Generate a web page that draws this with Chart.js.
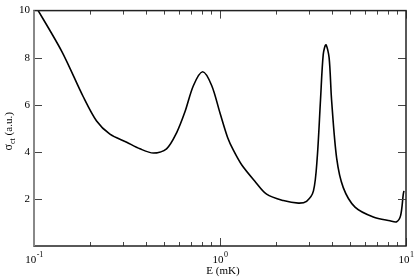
<!DOCTYPE html>
<html>
<head>
<meta charset="utf-8">
<script src="https://cdn.jsdelivr.net/npm/chart.js@4.4.1/dist/chart.umd.min.js"></script>
<style>
  html, body { margin: 0; padding: 0; background: #fff; }
</style>
</head>
<body>
<canvas id="crossSection" width="415" height="277"></canvas>
<script>
// energy (mK) and cross section (a.u.)
const energy = [
  0.100, 0.141, 0.184, 0.217, 0.256, 0.315, 0.371, 0.438,
  0.516, 0.585, 0.648, 0.720, 0.807, 0.902, 1.00, 1.10, 1.18, 1.31,
  1.54, 1.78, 2.19, 2.64, 2.92, 3.18, 3.33, 3.47, 3.59, 3.71,
  3.86, 3.98, 4.24, 4.60, 5.32, 6.67, 8.20, 8.91, 9.36, 9.67, 9.75
];
const sigma = [
  10.30, 8.27, 6.34, 5.31, 4.75, 4.41, 4.13, 3.95,
  4.13, 4.82, 5.70, 6.82, 7.40, 6.82, 5.65, 4.60, 4.07, 3.44,
  2.75, 2.20, 1.93, 1.82, 1.90, 2.34, 3.72, 6.20, 8.14, 8.55,
  8.00, 6.20, 3.72, 2.48, 1.65, 1.23, 1.07, 1.03, 1.30, 2.20, 2.34
];

const xMajorTicks = [0.1, 1, 10];
const xMajorExp = ['-1', '0', '1'];
const xMinorTicks = [0.2, 0.3, 0.4, 0.5, 0.6, 0.7, 0.8, 0.9, 2, 3, 4, 5, 6, 7, 8, 9];
const yMajorTicks = [2, 4, 6, 8];

const serif = '"Liberation Serif", "DejaVu Serif", serif';

const framePlugin = {
  id: 'frame',
  afterDatasetsDraw(chart) {
    const { ctx, chartArea: a, scales: { x, y } } = chart;
    ctx.save();

    // inward ticks on all four sides
    ctx.strokeStyle = '#444';
    ctx.lineWidth = 1;
    const tick = (px, len) => {
      ctx.beginPath();
      ctx.moveTo(px + 0.5, a.bottom); ctx.lineTo(px + 0.5, a.bottom - len);
      ctx.moveTo(px + 0.5, a.top); ctx.lineTo(px + 0.5, a.top + len);
      ctx.stroke();
    };
    xMajorTicks.forEach(v => tick(Math.round(x.getPixelForValue(v)), 8));
    xMinorTicks.forEach(v => tick(Math.round(x.getPixelForValue(v)), 4));
    yMajorTicks.forEach(v => {
      const py = Math.round(y.getPixelForValue(v)) + 0.5;
      ctx.beginPath();
      ctx.moveTo(a.left, py); ctx.lineTo(a.left + 8, py);
      ctx.moveTo(a.right, py); ctx.lineTo(a.right - 8, py);
      ctx.stroke();
    });

    // frame
    ctx.strokeStyle = '#222';
    ctx.lineWidth = 1.5;
    ctx.strokeRect(a.left, a.top, a.right - a.left, a.bottom - a.top);
    ctx.strokeStyle = '#888';
    ctx.lineWidth = 2;
    ctx.beginPath();
    ctx.moveTo(a.left, a.top); ctx.lineTo(a.left, a.bottom);
    ctx.stroke();

    // x tick labels 10^n
    ctx.fillStyle = '#000';
    ctx.textBaseline = 'alphabetic';
    xMajorTicks.forEach((v, i) => {
      const px = x.getPixelForValue(v);
      ctx.font = '11px ' + serif;
      const wBase = ctx.measureText('10').width;
      ctx.font = '8px ' + serif;
      const wExp = ctx.measureText(xMajorExp[i]).width;
      const start = px - (wBase + wExp) / 2;
      ctx.font = '11px ' + serif;
      ctx.textAlign = 'left';
      ctx.fillText('10', start, a.bottom + 17);
      ctx.font = '8px ' + serif;
      ctx.fillText(xMajorExp[i], start + wBase + 0.5, a.bottom + 11);
    });

    // x title
    ctx.font = '11px ' + serif;
    ctx.textAlign = 'center';
    ctx.fillText('E (mK)', (a.left + a.right) / 2 + 3, a.bottom + 28);

    // y title with subscript
    ctx.translate(12, (a.top + a.bottom) / 2 + 3);
    ctx.rotate(-Math.PI / 2);
    ctx.textAlign = 'left';
    const p1 = 'σ';
    const p3 = ' (a.u.)';
    ctx.font = '8px ' + serif;
    const wSub = ctx.measureText('ct').width;
    ctx.font = '12px ' + serif;
    const w1 = ctx.measureText(p1).width;
    ctx.font = '11px ' + serif;
    const w3 = ctx.measureText(p3).width;
    let cx = -(w1 + wSub + w3) / 2;
    ctx.font = '12px ' + serif;
    ctx.fillText(p1, cx, 0);
    cx += w1;
    ctx.font = '8px ' + serif;
    ctx.fillText('ct', cx, 3);
    cx += wSub;
    ctx.font = '11px ' + serif;
    ctx.fillText(p3, cx, 0);

    ctx.restore();
  }
};

const ctx = document.getElementById('crossSection').getContext('2d');
new Chart(ctx, {
  type: 'scatter',
  data: {
    datasets: [{
      data: energy.map((e, i) => ({ x: e, y: sigma[i] })),
      showLine: true,
      borderColor: '#000',
      borderWidth: 1.6,
      pointRadius: 0,
      tension: 0.3,
      fill: false
    }]
  },
  options: {
    responsive: false,
    animation: false,
    devicePixelRatio: 1,
    layout: { padding: { top: 5, right: 9, left: 0, bottom: 0 } },
    plugins: {
      legend: { display: false },
      tooltip: { enabled: false },
      title: { display: false }
    },
    scales: {
      x: {
        type: 'logarithmic',
        min: 0.1,
        max: 10,
        grid: { display: false },
        border: { display: false },
        ticks: { display: false },
        afterFit: (s) => { s.height = 31; }
      },
      y: {
        type: 'linear',
        min: 0,
        max: 10,
        grid: { display: false, drawTicks: false },
        border: { display: false },
        ticks: {
          stepSize: 2,
          padding: 4,
          color: '#000',
          font: { family: serif, size: 11 },
          callback: (v) => (v === 0 ? '' : v)
        },
        afterFit: (s) => { s.width = 34; }
      }
    }
  },
  plugins: [framePlugin]
});
</script>
</body>
</html>
